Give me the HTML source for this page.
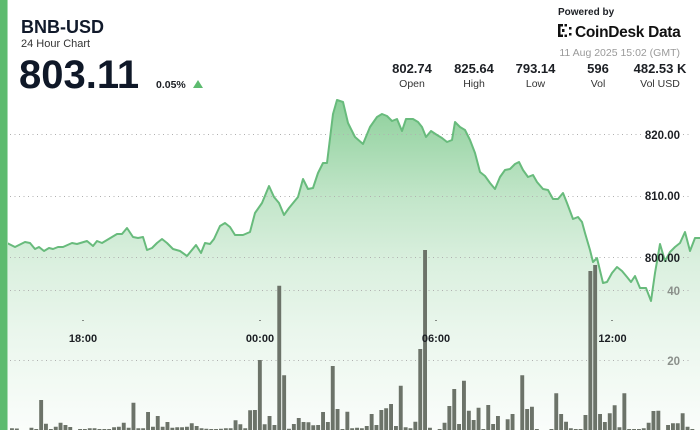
<!DOCTYPE html>
<html><head><meta charset="utf-8"><style>
html,body{margin:0;padding:0;background:#fff;}
body{width:700px;height:430px;overflow:hidden;position:relative;font-family:"Liberation Sans",Arial,sans-serif;}
svg{position:absolute;left:0;top:0;}
</style></head><body>
<svg width="700" height="430" viewBox="0 0 700 430" xmlns="http://www.w3.org/2000/svg" font-family="Liberation Sans, Arial, sans-serif">
<defs>
<linearGradient id="fg" x1="0" y1="100" x2="0" y2="430" gradientUnits="userSpaceOnUse">
<stop offset="0" stop-color="#5cbb6f" stop-opacity="0.7"/>
<stop offset="0.3" stop-color="#5cbb6f" stop-opacity="0.37"/>
<stop offset="0.5" stop-color="#5cbb6f" stop-opacity="0.22"/>
<stop offset="0.7" stop-color="#5cbb6f" stop-opacity="0.13"/>
<stop offset="1" stop-color="#5cbb6f" stop-opacity="0.03"/>
</linearGradient>
</defs>
<rect width="700" height="430" fill="#fff"/>
<path fill="url(#fg)" d="M0 241 L7 243 L15 247 L25 242 L30 243 L35 249 L39 247 L44 251 L49 248 L53 249 L58 247 L63 247 L72 243 L77 244 L87 241 L93 246 L97 241 L102 243 L112 237 L117 234 L122 234 L127 228 L133 237 L138 238 L143 237 L147 250 L152 248 L157 243 L162 239 L167 243 L173 249 L180 251 L187 256 L196 245 L201 253 L205 243 L210 244 L214 239 L220 226 L225 223 L230 227 L235 235 L243 235 L250 232 L255 213 L262 203 L269 186 L274 197 L279 203 L284 215 L289 208 L298 197 L303 179 L308 189 L313 188 L318 173 L323 163 L327 163 L333 114 L337 100 L343 102 L348 123 L350 127 L355 137 L363 144 L370 127 L377 117 L382 114 L387 116 L392 121 L397 119 L402 131 L406 119 L413 119 L418 122 L422 127 L426 137 L431 131 L437 135 L442 138 L447 142 L452 140 L455 122 L460 127 L465 130 L470 140 L475 153 L480 172 L485 176 L490 183 L495 189 L500 177 L505 170 L510 169 L515 164 L519 162 L523 170 L528 177 L533 175 L537 182 L543 189 L548 190 L553 199 L558 199 L563 193 L567 203 L573 219 L578 217 L582 222 L585 233 L590 250 L593 262 L597 258 L603 283 L607 282 L612 273 L617 267 L622 271 L627 277 L631 282 L635 276 L640 288 L646 288 L651 301 L655 273 L660 244 L665 261 L670 252 L675 247 L680 243 L685 232 L690 251 L695 238 L700 238 L700 430 L0 430 Z"/>
<g stroke="#b0b0b0" stroke-width="1" stroke-dasharray="1 3.5" fill="none">
<path d="M10 134.5 H643 M683 134.5 H692 M10 196.5 H643 M683 196.5 H692 M10 257.5 H643 M683 257.5 H692 M10 290.5 H664 M683 290.5 H692 M10 360.5 H664 M683 360.5 H692"/>
</g>
<path fill="#6c7369" d="M10 428.3h3.9V430h-3.9z M14.9 428.5h3.9V430h-3.9z M29.5 427.7h3.9V430h-3.9z M34.3 429h3.9V430h-3.9z M39.2 400h3.9V430h-3.9z M44 423.7h3.9V430h-3.9z M48.9 429h3.9V430h-3.9z M53.8 426.7h3.9V430h-3.9z M58.6 422.7h3.9V430h-3.9z M63.5 425h3.9V430h-3.9z M68.3 427h3.9V430h-3.9z M78.1 429h3.9V430h-3.9z M82.9 429h3.9V430h-3.9z M87.8 428.3h3.9V430h-3.9z M92.6 428.3h3.9V430h-3.9z M97.5 429h3.9V430h-3.9z M102.4 429h3.9V430h-3.9z M107.2 429h3.9V430h-3.9z M112.1 427.3h3.9V430h-3.9z M116.9 426.7h3.9V430h-3.9z M121.8 422.7h3.9V430h-3.9z M126.7 427.7h3.9V430h-3.9z M131.5 402.7h3.9V430h-3.9z M136.4 428.3h3.9V430h-3.9z M141.2 428.3h3.9V430h-3.9z M146.1 412h3.9V430h-3.9z M151 426.7h3.9V430h-3.9z M155.8 416h3.9V430h-3.9z M160.7 426.7h3.9V430h-3.9z M165.5 422h3.9V430h-3.9z M170.4 427.7h3.9V430h-3.9z M175.3 427.3h3.9V430h-3.9z M180.1 427.3h3.9V430h-3.9z M185 426.7h3.9V430h-3.9z M189.8 423.3h3.9V430h-3.9z M194.7 426h3.9V430h-3.9z M199.6 428.3h3.9V430h-3.9z M204.4 428.7h3.9V430h-3.9z M209.3 429h3.9V430h-3.9z M214.1 429h3.9V430h-3.9z M219 428.7h3.9V430h-3.9z M223.9 428.3h3.9V430h-3.9z M228.7 428.3h3.9V430h-3.9z M233.6 420.3h3.9V430h-3.9z M238.4 424.3h3.9V430h-3.9z M243.3 428.3h3.9V430h-3.9z M248.2 410.3h3.9V430h-3.9z M253 410h3.9V430h-3.9z M257.9 360h3.9V430h-3.9z M262.7 424.3h3.9V430h-3.9z M267.6 416h3.9V430h-3.9z M272.5 425h3.9V430h-3.9z M277.3 285.7h3.9V430h-3.9z M282.2 375.3h3.9V430h-3.9z M287 428.7h3.9V430h-3.9z M291.9 424h3.9V430h-3.9z M296.8 418h3.9V430h-3.9z M301.6 422h3.9V430h-3.9z M306.5 422.3h3.9V430h-3.9z M311.3 425.3h3.9V430h-3.9z M316.2 425h3.9V430h-3.9z M321.1 412h3.9V430h-3.9z M325.9 422h3.9V430h-3.9z M330.8 366h3.9V430h-3.9z M335.6 409h3.9V430h-3.9z M340.5 429h3.9V430h-3.9z M345.4 411.7h3.9V430h-3.9z M350.2 428.3h3.9V430h-3.9z M355.1 427.7h3.9V430h-3.9z M359.9 428.3h3.9V430h-3.9z M364.8 426h3.9V430h-3.9z M369.7 414h3.9V430h-3.9z M374.5 425h3.9V430h-3.9z M379.4 410h3.9V430h-3.9z M384.2 408.3h3.9V430h-3.9z M389.1 404h3.9V430h-3.9z M394 426h3.9V430h-3.9z M398.8 385.7h3.9V430h-3.9z M403.7 427.3h3.9V430h-3.9z M408.5 428.3h3.9V430h-3.9z M413.4 421.7h3.9V430h-3.9z M418.3 349h3.9V430h-3.9z M423.1 250h3.9V430h-3.9z M428 427.7h3.9V430h-3.9z M437.7 429h3.9V430h-3.9z M442.6 422.7h3.9V430h-3.9z M447.4 406h3.9V430h-3.9z M452.3 389h3.9V430h-3.9z M457.1 424h3.9V430h-3.9z M462 380.7h3.9V430h-3.9z M466.9 410.7h3.9V430h-3.9z M471.7 420h3.9V430h-3.9z M476.6 407.7h3.9V430h-3.9z M481.4 429h3.9V430h-3.9z M486.3 405h3.9V430h-3.9z M491.2 424h3.9V430h-3.9z M496 416h3.9V430h-3.9z M505.7 419.3h3.9V430h-3.9z M510.6 414h3.9V430h-3.9z M520.3 375.3h3.9V430h-3.9z M525.2 409h3.9V430h-3.9z M530 406.7h3.9V430h-3.9z M534.9 429h3.9V430h-3.9z M549.5 429h3.9V430h-3.9z M554.3 393.3h3.9V430h-3.9z M559.2 414h3.9V430h-3.9z M564.1 421.7h3.9V430h-3.9z M568.9 428.3h3.9V430h-3.9z M573.8 429h3.9V430h-3.9z M578.6 429h3.9V430h-3.9z M583.5 415h3.9V430h-3.9z M588.4 271h3.9V430h-3.9z M593.2 265h3.9V430h-3.9z M598.1 414h3.9V430h-3.9z M602.9 422h3.9V430h-3.9z M607.8 413.3h3.9V430h-3.9z M612.7 405.3h3.9V430h-3.9z M617.5 427.3h3.9V430h-3.9z M622.4 393.3h3.9V430h-3.9z M627.2 429h3.9V430h-3.9z M632.1 429h3.9V430h-3.9z M637 429h3.9V430h-3.9z M641.8 428.3h3.9V430h-3.9z M646.7 422.7h3.9V430h-3.9z M651.5 411h3.9V430h-3.9z M656.4 410.7h3.9V430h-3.9z M666.1 425h3.9V430h-3.9z M671 423.3h3.9V430h-3.9z M675.8 423.3h3.9V430h-3.9z M680.7 413.3h3.9V430h-3.9z M685.6 426.7h3.9V430h-3.9z M690.4 429h3.9V430h-3.9z"/>
<path fill="none" stroke="#68bb7c" stroke-width="2" stroke-linejoin="round" d="M0 241 L7 243 L15 247 L25 242 L30 243 L35 249 L39 247 L44 251 L49 248 L53 249 L58 247 L63 247 L72 243 L77 244 L87 241 L93 246 L97 241 L102 243 L112 237 L117 234 L122 234 L127 228 L133 237 L138 238 L143 237 L147 250 L152 248 L157 243 L162 239 L167 243 L173 249 L180 251 L187 256 L196 245 L201 253 L205 243 L210 244 L214 239 L220 226 L225 223 L230 227 L235 235 L243 235 L250 232 L255 213 L262 203 L269 186 L274 197 L279 203 L284 215 L289 208 L298 197 L303 179 L308 189 L313 188 L318 173 L323 163 L327 163 L333 114 L337 100 L343 102 L348 123 L350 127 L355 137 L363 144 L370 127 L377 117 L382 114 L387 116 L392 121 L397 119 L402 131 L406 119 L413 119 L418 122 L422 127 L426 137 L431 131 L437 135 L442 138 L447 142 L452 140 L455 122 L460 127 L465 130 L470 140 L475 153 L480 172 L485 176 L490 183 L495 189 L500 177 L505 170 L510 169 L515 164 L519 162 L523 170 L528 177 L533 175 L537 182 L543 189 L548 190 L553 199 L558 199 L563 193 L567 203 L573 219 L578 217 L582 222 L585 233 L590 250 L593 262 L597 258 L603 283 L607 282 L612 273 L617 267 L622 271 L627 277 L631 282 L635 276 L640 288 L646 288 L651 301 L655 273 L660 244 L665 261 L670 252 L675 247 L680 243 L685 232 L690 251 L695 238 L700 238"/>
<g font-weight="bold" font-size="11.5" fill="#1c1f24" text-anchor="end">
<text x="680" y="139">820.00</text>
<text x="680" y="200">810.00</text>
<text x="680" y="262">800.00</text>
</g>
<g font-weight="bold" font-size="11.5" fill="#8a8f8a" text-anchor="end">
<text x="680" y="295">40</text>
<text x="680" y="365">20</text>
</g>
<path fill="#222" d="M82.5 320h1v1h-1z M259.5 320h1v1h-1z M435.5 320h1v1h-1z M611.5 320h1v1h-1z"/>
<g font-weight="bold" font-size="11" fill="#1c1f24" text-anchor="middle">
<text x="83" y="342">18:00</text>
<text x="260" y="342">00:00</text>
<text x="436" y="342">06:00</text>
<text x="612.5" y="342">12:00</text>
</g>
<rect x="0" y="0" width="7" height="430" fill="#5dbb6f"/>
<rect x="7" y="0" width="1" height="430" fill="#a6dbb1"/>
<text x="21" y="33" font-weight="bold" font-size="18" fill="#111a2b">BNB-USD</text>
<text x="21" y="47" font-size="11" fill="#333">24 Hour Chart</text>
<text x="19" y="88" font-weight="bold" font-size="40" fill="#0f1828">803.11</text>
<text x="156" y="88" font-weight="bold" font-size="10.5" fill="#1c1f24">0.05%</text>
<polygon points="193,88 203,88 198,80" fill="#5dbb6f"/>
<text x="558" y="15" font-weight="bold" font-size="10" fill="#1c1f24">Powered by</text>
<path fill="#111" d="M558 24h2.5v13h-2.5z M558 24h5v2.5h-5z M558 34.5h5v2.5h-5z M564.5 24h2.5v2.5h-2.5z M564.5 34.5h2.5v2.5h-2.5z M562 29h2.5v3h-2.5z M569 27h2.5v2.5h-2.5z M569 33h2.5v2.5h-2.5z"/>
<text x="575" y="37" font-weight="bold" font-size="15.5" fill="#111" letter-spacing="-0.3">CoinDesk Data</text>
<text x="680" y="56" font-size="10.5" fill="#9a9a9a" text-anchor="end">11 Aug 2025 15:02 (GMT)</text>
<g font-weight="bold" font-size="13" fill="#1c1f24" text-anchor="middle">
<text x="412" y="73">802.74</text>
<text x="474" y="73">825.64</text>
<text x="535.5" y="73">793.14</text>
<text x="598" y="73">596</text>
<text x="660" y="73">482.53 K</text>
</g>
<g font-size="10.5" fill="#333" text-anchor="middle">
<text x="412" y="87">Open</text>
<text x="474" y="87">High</text>
<text x="535.5" y="87">Low</text>
<text x="598" y="87">Vol</text>
<text x="660" y="87">Vol USD</text>
</g>
</svg>
</body></html>
